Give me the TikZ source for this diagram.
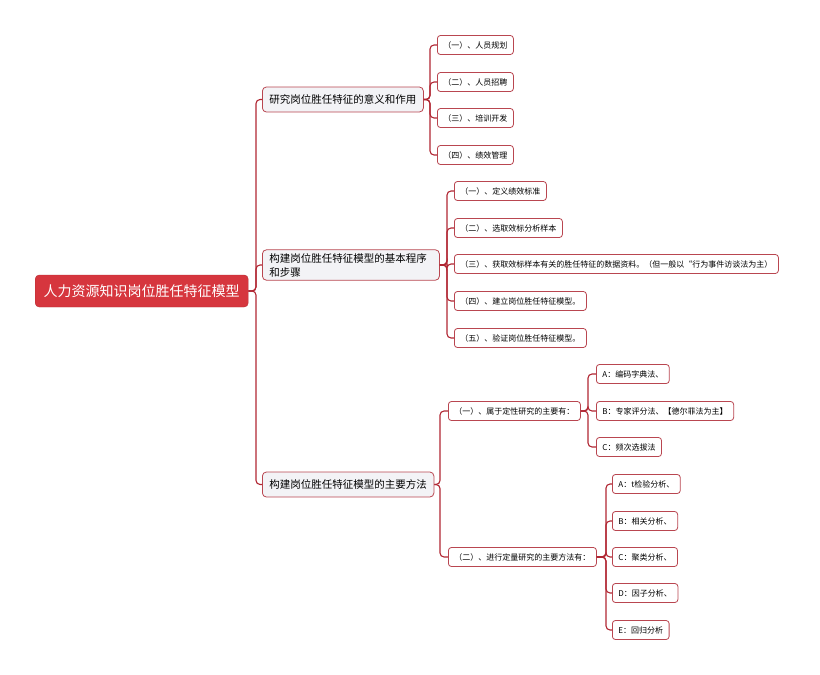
\documentclass[tikz,border=0pt]{standalone}
\usepackage{fontspec}
\setmainfont{Noto Sans CJK SC}
\definecolor{rootred}{RGB}{214,54,62}
\definecolor{linered}{RGB}{176,38,50}
\definecolor{boxedge}{RGB}{185,70,80}
\definecolor{lvlfill}{RGB}{243,243,246}
\tikzset{
 rootbox/.style={draw=rootred!85!black, fill=rootred, text=white, rounded corners=4pt, font=\fontsize{14}{17}\selectfont, inner xsep=8.5pt, minimum height=32pt, anchor=west},
 lvlbox/.style={draw=boxedge, fill=lvlfill, rounded corners=4pt, font=\fontsize{10.5}{14}\selectfont, inner xsep=7pt, minimum height=25pt, anchor=west, line width=0.8pt},
 leafbox/.style={draw=boxedge, fill=white, rounded corners=3pt, font=\fontsize{8}{10}\selectfont, inner xsep=6pt, minimum height=19pt, anchor=west, line width=0.8pt},
 conn/.style={draw=linered, line width=1.1pt, rounded corners=4pt},
}
\begin{document}
\begin{tikzpicture}[x=1pt,y=-1pt]
\useasboundingbox (0,0) rectangle (820,675);
% root and level 1
\node[rootbox] (root) at (35,291) {人力资源知识岗位胜任特征模型};
\node[lvlbox] (A) at (262,99.5) {研究岗位胜任特征的意义和作用};
\node[lvlbox, text width=163pt, align=left] (B) at (262,265) {构建岗位胜任特征模型的基本程序\\和步骤};
\node[lvlbox] (C) at (262,484.5) {构建岗位胜任特征模型的主要方法};
% group A
\node[leafbox] (a1) at (437,45) {（一）、人员规划};
\node[leafbox] (a2) at (437,82) {（二）、人员招聘};
\node[leafbox] (a3) at (437,118) {（三）、培训开发};
\node[leafbox] (a4) at (437,155) {（四）、绩效管理};
% group B
\node[leafbox] (b1) at (454,191) {（一）、定义绩效标准};
\node[leafbox] (b2) at (454,228) {（二）、选取效标分析样本};
\node[leafbox] (b3) at (454,264) {（三）、获取效标样本有关的胜任特征的数据资料。（但一般以“行为事件访谈法为主）};
\node[leafbox] (b4) at (454,301) {（四）、建立岗位胜任特征模型。};
\node[leafbox] (b5) at (454,338) {（五）、验证岗位胜任特征模型。};
% group C
\node[leafbox] (c1) at (448,411) {（一）、属于定性研究的主要有：};
\node[leafbox] (c2) at (448,557) {（二）、进行定量研究的主要方法有：};
\node[leafbox] (c11) at (596,374) {A：编码字典法、};
\node[leafbox] (c12) at (596,411) {B：专家评分法、【德尔菲法为主】};
\node[leafbox] (c13) at (596,447) {C：频次选拔法};
\node[leafbox] (c21) at (612,484) {A：t检验分析、};
\node[leafbox] (c22) at (612,521) {B：相关分析、};
\node[leafbox] (c23) at (612,557) {C：聚类分析、};
\node[leafbox] (c24) at (612,593) {D：因子分析、};
\node[leafbox] (c25) at (612,630) {E：回归分析};
% junction coordinates
\coordinate (rj) at (256,291);
\coordinate (aj) at (430,99.5);
\coordinate (bj) at (447,265);
\coordinate (cj) at (440,484.5);
\coordinate (c1j) at (588,411);
\coordinate (c2j) at (606,557);
% connectors
\foreach \n in {A,B,C} \draw[conn] (root.east) -- (rj) |- (\n.west);
\foreach \n in {a1,a2,a3,a4} \draw[conn] (A.east) -- (aj) |- (\n.west);
\foreach \n in {b1,b2,b3,b4,b5} \draw[conn] (B.east) -- (bj) |- (\n.west);
\foreach \n in {c1,c2} \draw[conn] (C.east) -- (cj) |- (\n.west);
\foreach \n in {c11,c12,c13} \draw[conn] (c1.east) -- (c1j) |- (\n.west);
\foreach \n in {c21,c22,c23,c24,c25} \draw[conn] (c2.east) -- (c2j) |- (\n.west);
\end{tikzpicture}
\end{document}
